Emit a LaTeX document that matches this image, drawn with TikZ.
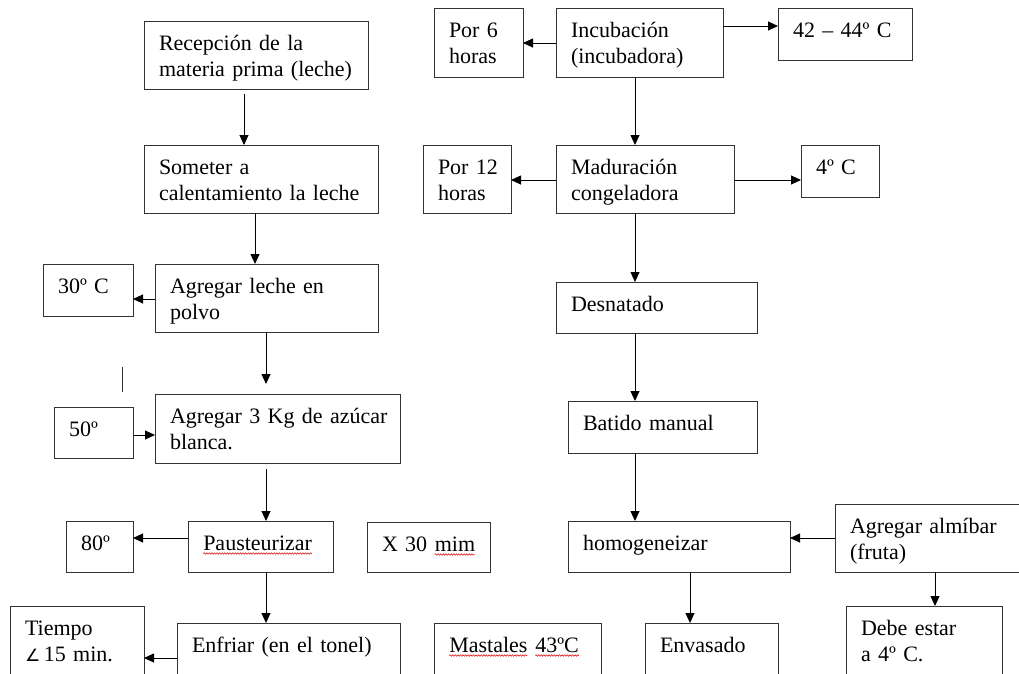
\documentclass[tikz,border=0pt]{standalone}
\usepackage{fontspec}
\setmainfont{Liberation Serif}
\newfontfamily\symfont{DejaVu Sans}
\usetikzlibrary{arrows.meta,fit,decorations.pathmorphing}
\tikzset{
  bx/.style={draw=black!80, line width=0.9pt, inner sep=0pt, outer sep=0pt},
  txt/.style={anchor=base west, inner sep=0pt, outer sep=0pt, align=left,
    text width=260pt, font=\fontsize{22}{26}\selectfont},
  arr/.style={draw=black, line width=0.9pt, -{Triangle[length=10pt,width=9pt]}},
  squig/.style={draw=red!85!black, line width=0.5pt, decorate,
    decoration={snake, amplitude=0.8pt, segment length=2.6pt}},
}
\newcommand\redwave[1]{\tikz[baseline=(wd.base)]{\node[inner sep=0pt, outer sep=0pt] (wd) {#1};
  \draw[squig] ([yshift=-3.5pt]wd.base west) -- ([yshift=-3.5pt]wd.base east);}}
\newcommand\mkbox[6]{%
  \node[bx, fit={(#2,#3) (#4,#5)}] (#1) {};
  \node[txt] (#1-t) at ([xshift=15pt,yshift=-29pt]#1.north west) {#6};
}
\begin{document}
\begin{tikzpicture}[x=1pt,y=-1pt]
\useasboundingbox (0,0) rectangle (1019,673);
\clip (0,0) rectangle (1019,673);
\fill[white] (0,0) rectangle (1019,673);
% left column
\mkbox{rec}{144}{21}{368}{89}{Recepción de la\\materia prima (leche)}
\mkbox{som}{144}{145}{378}{213}{Someter a\\calentamiento la leche}
\mkbox{leche}{155}{264}{378}{332}{Agregar leche en\\polvo}
\mkbox{cA}{43}{264}{133}{316}{30º C}
\mkbox{azu}{155}{394}{400}{463}{Agregar 3 Kg de azúcar\\blanca.}
\mkbox{cB}{54}{407}{133}{458}{50º}
\mkbox{paus}{188}{521}{333}{572}{\redwave{Pausteurizar}}
\mkbox{cC}{66}{521}{133}{572}{80º}
\mkbox{xtr}{367}{522}{490}{572}{X 30 \redwave{mim}}
\mkbox{enf}{177}{623}{400}{690}{Enfriar (en el tonel)}
\mkbox{tiem}{10}{606}{144}{690}{Tiempo\\{\symfont\fontsize{17}{26}\selectfont ∠}\,15 min.}
\mkbox{mast}{434}{623}{601}{690}{\redwave{Mastales} \redwave{43ºC}}
% right column
\mkbox{porA}{434}{8}{523}{77}{Por 6\\horas}
\mkbox{inc}{556}{8}{723}{77}{Incubación\\(incubadora)}
\mkbox{cD}{778}{8}{912}{60}{42 – 44º C}
\mkbox{porB}{423}{145}{511}{213}{Por 12\\horas}
\mkbox{mad}{556}{145}{734}{213}{Maduración\\congeladora}
\mkbox{cE}{801}{145}{879}{197}{4º C}
\mkbox{des}{556}{282}{757}{333}{Desnatado}
\mkbox{bat}{568}{401}{757}{453}{Batido manual}
\mkbox{hom}{568}{521}{790}{572}{homogeneizar}
\mkbox{alm}{835}{504}{1030}{572}{Agregar almíbar\\(fruta)}
\mkbox{debe}{846}{606}{1002}{690}{Debe estar\\a 4º C.}
\mkbox{env}{645}{623}{778}{690}{Envasado}
% stray mark
\draw[black!80, line width=0.9pt] (122,367) -- (122,392);
% vertical connectors
\draw[arr, shorten <=5pt] ([xshift=100pt]rec.south west) -- ([xshift=100pt]rec.south west |- som.north);
\draw[arr] ([xshift=111pt]som.south west) -- ([xshift=111pt]som.south west |- leche.north);
\draw[arr, shorten >=10pt] ([xshift=111pt]leche.south west) -- ([xshift=111pt]leche.south west |- azu.north);
\draw[arr, shorten <=6pt] ([xshift=111pt]azu.south west) -- ([xshift=111pt]azu.south west |- paus.north);
\draw[arr] ([xshift=78pt]paus.south west) -- ([xshift=78pt]paus.south west |- enf.north);
\draw[arr] ([xshift=79pt]inc.south west) -- ([xshift=79pt]inc.south west |- mad.north);
\draw[arr] ([xshift=79pt]mad.south west) -- ([xshift=79pt]mad.south west |- des.north);
\draw[arr] ([xshift=79pt]des.south west) -- ([xshift=79pt]des.south west |- bat.north);
\draw[arr] ([xshift=67pt]bat.south west) -- ([xshift=67pt]bat.south west |- hom.north);
\draw[arr] ([xshift=122pt]hom.south west) -- ([xshift=122pt]hom.south west |- env.north);
\draw[arr] ([xshift=100pt]alm.south west) -- ([xshift=100pt]alm.south west |- debe.north);
% horizontal connectors
\draw[arr] ([yshift=-35pt]leche.north west) -- ([yshift=-35pt]leche.north west -| cA.east);
\draw[arr] ([yshift=-28pt]cB.north east) -- ([yshift=-28pt]cB.north east -| azu.west);
\draw[arr] ([yshift=-17pt]paus.north west) -- ([yshift=-17pt]paus.north west -| cC.east);
\draw[arr] ([yshift=-35pt]enf.north west) -- ([yshift=-35pt]enf.north west -| tiem.east);
\draw[arr] ([yshift=-35pt]inc.north west) -- ([yshift=-35pt]inc.north west -| porA.east);
\draw[arr] ([yshift=-18pt]inc.north east) -- ([yshift=-18pt]inc.north east -| cD.west);
\draw[arr] ([yshift=-35pt]mad.north west) -- ([yshift=-35pt]mad.north west -| porB.east);
\draw[arr] ([yshift=-35pt]mad.north east) -- ([yshift=-35pt]mad.north east -| cE.west);
\draw[arr] ([yshift=-34pt]alm.north west) -- ([yshift=-34pt]alm.north west -| hom.east);
\end{tikzpicture}
\end{document}
